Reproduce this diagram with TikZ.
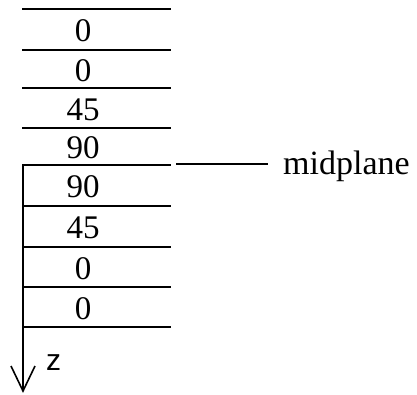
\documentclass[tikz,border=0pt]{standalone}
\usepackage{fontspec}
\setmainfont{Liberation Serif}
\newfontfamily\zfont{Liberation Sans}
\begin{document}
\begin{tikzpicture}[x=1pt,y=-1pt,
  layer/.style={line width=1.8pt},
  lbl/.style={anchor=base,inner sep=0pt,font=\fontsize{33}{36}\selectfont},
  axis/.style={line width=1.6pt}]
\useasboundingbox (0,0) rectangle (417,394);
% layer boundaries
\foreach \i/\y in {0/9,1/50,2/88,3/128,4/165,5/206,6/247,7/287,8/327}{
  \coordinate (L\i) at (22,\y);
  \coordinate (R\i) at (171,\y);
  \draw[layer] (L\i) -- (R\i);
}
% labels
\foreach \t/\y [count=\k] in {0/29.5,0/69,45/108,90/146.5,90/185.5,45/226.5,0/267,0/307}{
  \node[lbl] (n\k) at (83,\y+12) {\t};
}
% z axis
\coordinate (ztop) at (23,164);
\coordinate (ztip) at (23,391);
\draw[axis] (ztop) -- (ztip);
\draw[axis,line join=miter] (11,366) -- (ztip) -- (35,366);
\node[anchor=base west,inner sep=0pt,font=\zfont\fontsize{30}{32}\selectfont] (z) at (46,370) {z};
% midplane
\coordinate (m1) at (176,164);
\coordinate (m2) at (268,164);
\draw[layer] (m1) -- (m2);
\node[anchor=base west,inner sep=0pt,font=\fontsize{34}{36}\selectfont] (mid) at (283,174) {midplane};
\end{tikzpicture}
\end{document}
